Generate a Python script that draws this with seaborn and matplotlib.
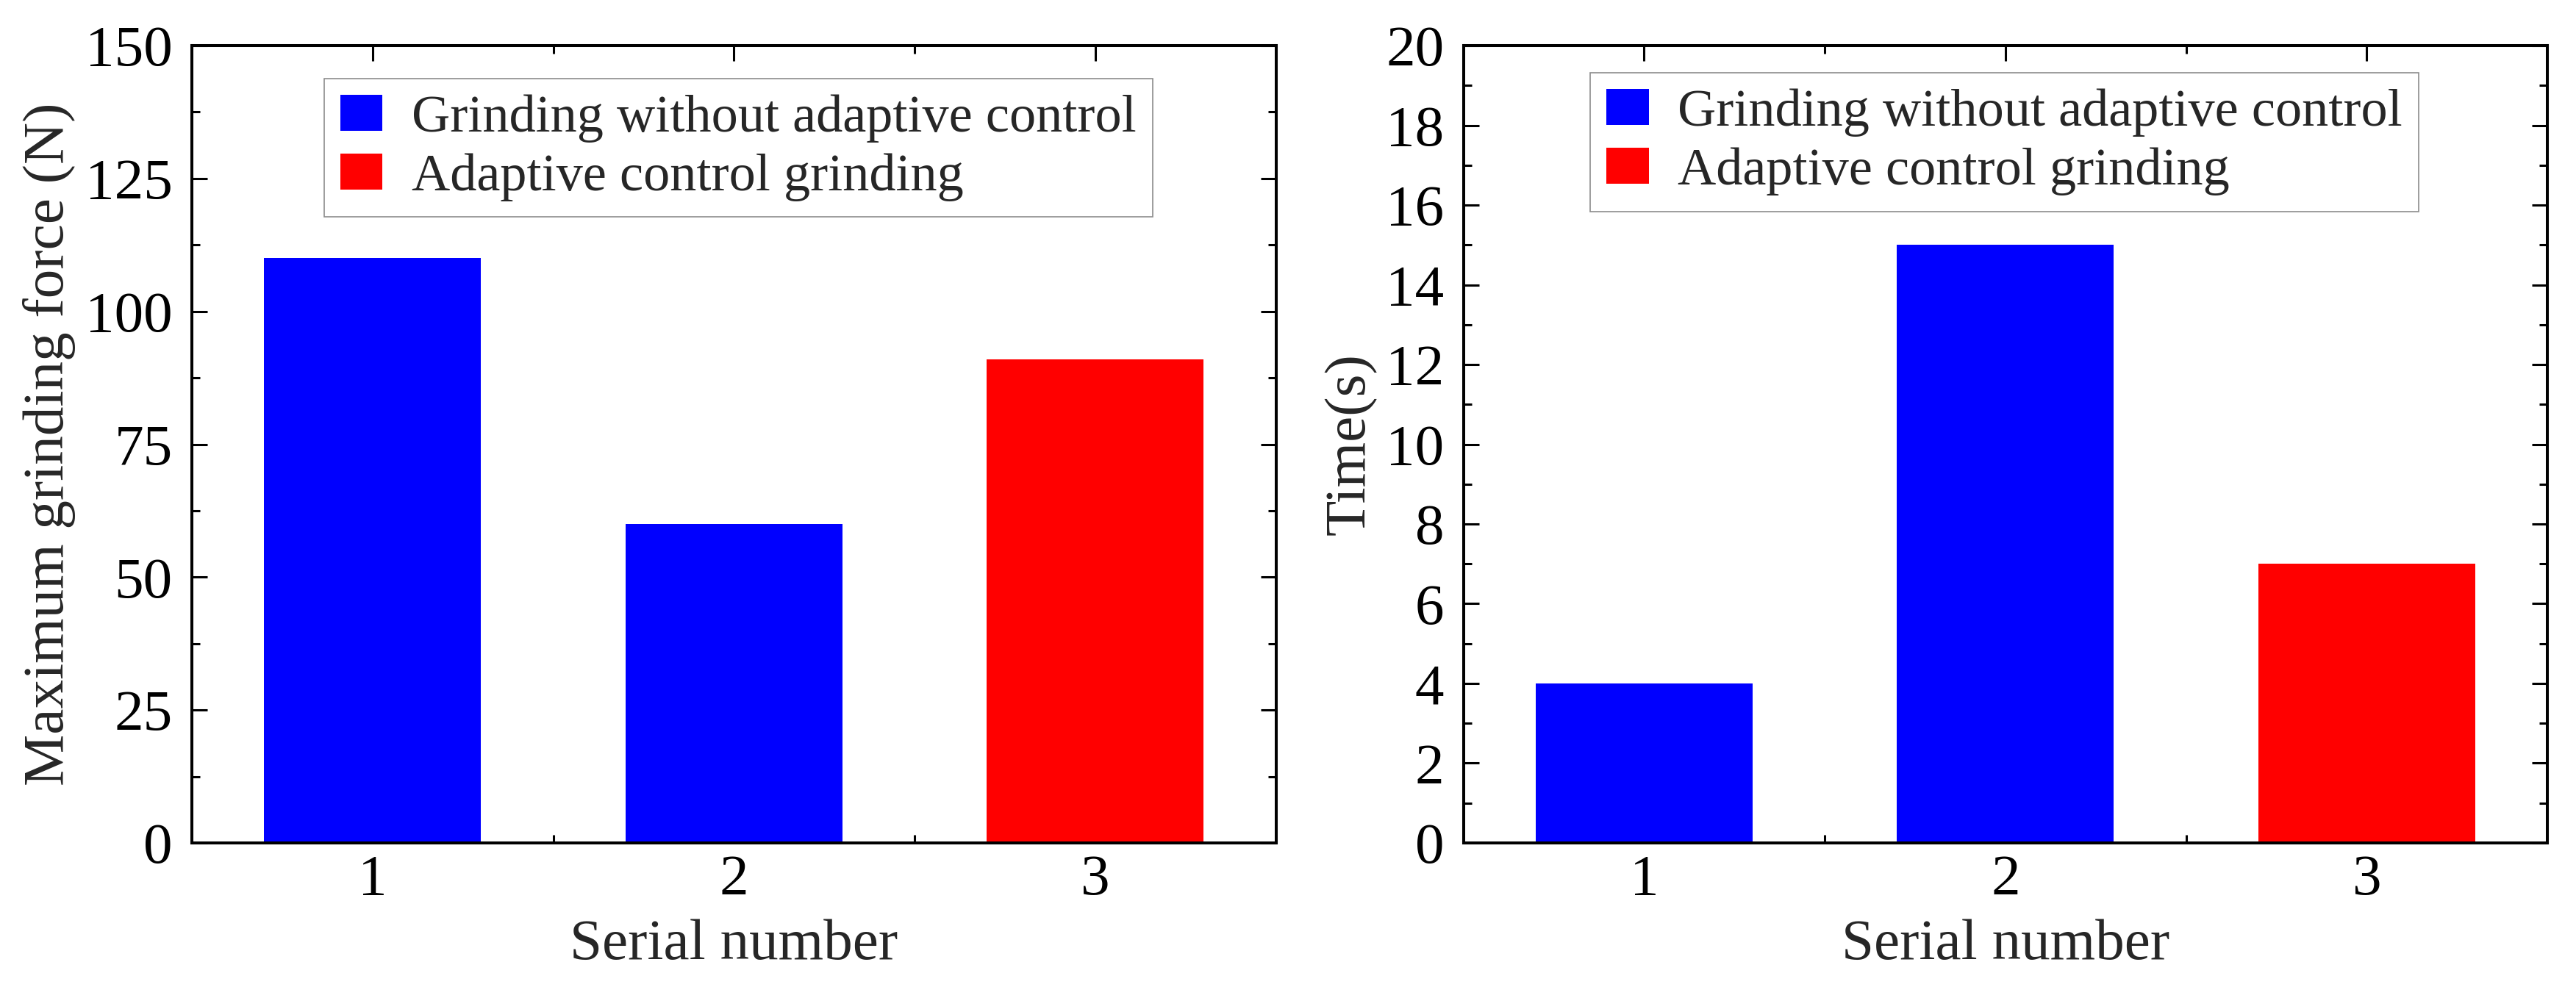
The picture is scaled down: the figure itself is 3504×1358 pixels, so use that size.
import matplotlib
matplotlib.use("Agg")
import matplotlib.pyplot as plt
import pandas as pd
import seaborn as sns

# Values
serial = ["1", "2", "3"]
group = ["Grinding without adaptive control",
         "Grinding without adaptive control",
         "Adaptive control grinding"]
max_force = [110, 60, 91]
grind_time = [4, 15, 7]

colors = {"Grinding without adaptive control": "#0000FF",
          "Adaptive control grinding": "#FF0000"}

sns.set_theme(style="ticks")
plt.rcParams.update({
    "font.family": ["Liberation Serif", "DejaVu Serif"],
    "axes.linewidth": 2.9,
    "xtick.direction": "in", "ytick.direction": "in",
    "xtick.top": True, "ytick.right": True,
    "xtick.major.size": 15, "ytick.major.size": 15,
    "xtick.minor.size": 8, "ytick.minor.size": 8,
    "xtick.major.width": 2.2, "ytick.major.width": 2.2,
    "xtick.minor.width": 2.2, "ytick.minor.width": 2.2,
    "axes.edgecolor": "black",
    "xtick.color": "black", "ytick.color": "black",
})

df = pd.DataFrame({"serial": serial, "group": group,
                   "force": max_force, "time": grind_time})

fig, axes = plt.subplots(1, 2, figsize=(35.04, 13.58), dpi=100)
fig.subplots_adjust(left=0.0745, right=0.9889, bottom=0.1554, top=0.9543, wspace=0.173)

panels = [
    (axes[0], "force", "Maximum grinding force (N)", 150, 25, 12.5, (0.122, 0.959)),
    (axes[1], "time", "Time(s)", 20, 2, 1, (0.117, 0.966)),
]

for ax, col, ylabel, ymax, major, minor, anchor in panels:
    sns.barplot(data=df, x="serial", y=col, hue="group", palette=colors,
                dodge=False, width=0.6, saturation=1, ax=ax, linewidth=0)
    ax.set_xlim(-0.5, 2.5)
    ax.set_ylim(0, ymax)
    ax.set_yticks([major * i for i in range(int(ymax / major) + 1)])
    ax.set_yticks([minor * i for i in range(int(ymax / minor) + 1)], minor=True)
    ax.set_xticks([0.5, 1.5], minor=True)
    ax.tick_params(axis="both", which="both", top=True, right=True, labelsize=57)
    ax.tick_params(axis="y", which="major", pad=19)
    ax.tick_params(axis="x", which="major", pad=11)
    ax.set_xlabel("Serial number", fontsize=57, labelpad=12)
    ax.set_ylabel(ylabel, fontsize=57, labelpad=9)
    for s in ax.spines.values():
        s.set_visible(True)
        s.set_linewidth(2.9)

    handles, labels = ax.get_legend_handles_labels()
    ax.get_legend().remove()
    leg = ax.legend(handles, labels, loc="upper left", bbox_to_anchor=anchor,
                    borderaxespad=0, fontsize=52, frameon=True, fancybox=False,
                    framealpha=1, edgecolor="#8c8c8c", handlelength=0.8,
                    handleheight=0.67, handletextpad=0.55, borderpad=0.3,
                    labelspacing=0.2)
    leg.get_frame().set_linewidth(1.2)

fig.savefig("out.png", dpi=100, facecolor="white")
